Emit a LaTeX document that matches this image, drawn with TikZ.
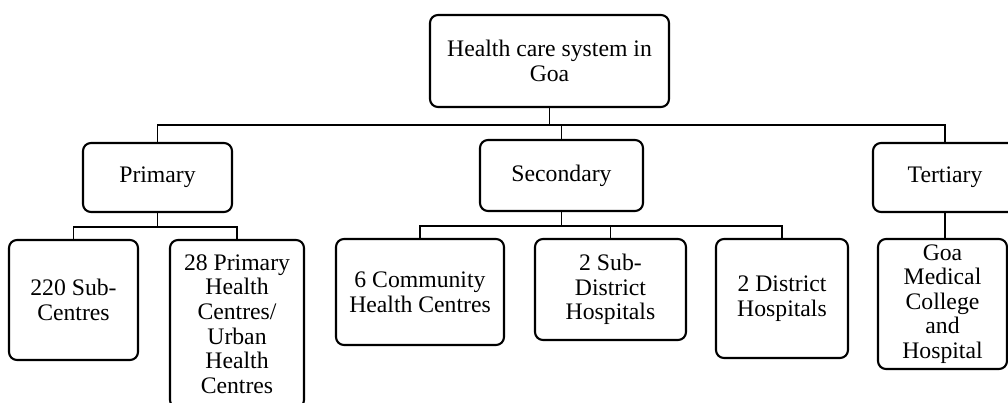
\documentclass[tikz,border=0pt]{standalone}
\usepackage{fontspec}
\setmainfont{Liberation Serif}
\begin{document}
\begin{tikzpicture}[x=1pt,y=-1pt,
  box/.style={draw, line width=2.1pt, rounded corners=8pt, inner sep=0pt,
    align=center, font=\fontsize{23.7}{24.6}\selectfont},
  conn/.style={line width=1.8pt}]
\useasboundingbox (0,0) rectangle (1008,403);
\clip (0,0) rectangle (1008,403);
\node[box, minimum width=239pt, minimum height=92pt] (top) at (549.5,61) {Health care system in\\Goa};
\node[box, minimum width=149pt, minimum height=69pt] (pri) at (157.5,177.5) {Primary};
\node[box, minimum width=163pt, minimum height=71pt] (sec) at (561.5,175.5) {Secondary};
\node[box, minimum width=144pt, minimum height=69pt] (ter) at (945,177.5) {Tertiary};
\node[box, minimum width=129pt, minimum height=120pt] (sub) at (73.5,300) {220 Sub-\\Centres};
\node[box, minimum width=134pt, minimum height=168pt] (phc) at (237,324) {28 Primary\\Health\\Centres/\\Urban\\Health\\Centres};
\node[box, minimum width=168pt, minimum height=106pt] (chc) at (420,292) {6 Community\\Health Centres};
\node[box, minimum width=151pt, minimum height=101pt] (sdh) at (610.5,289.5) {2 Sub-\\District\\Hospitals};
\node[box, minimum width=132pt, minimum height=119pt] (dh) at (782,298.5) {2 District\\Hospitals};
\node[box, minimum width=129pt, minimum height=130pt] (gmc) at (942.5,304) {Goa\\Medical\\College\\and\\Hospital};
\coordinate (b1) at (550,125);
\coordinate (b2) at (158,227);
\coordinate (b3) at (562,226);
\draw[conn] (top.south) -- (top.south |- b1);
\draw[conn] (pri.north) -- (pri.north |- b1) -- (ter.north |- b1) -- (ter.north);
\draw[conn] (sec.north) -- (sec.north |- b1);
\draw[conn] (pri.south) -- (pri.south |- b2);
\draw[conn] (sub.north) -- (sub.north |- b2) -- (phc.north |- b2) -- (phc.north);
\draw[conn] (sec.south) -- (sec.south |- b3);
\draw[conn] (chc.north) -- (chc.north |- b3) -- (dh.north |- b3) -- (dh.north);
\draw[conn] (sdh.north) -- (sdh.north |- b3);
\draw[conn] (ter.south) -- (ter.south |- gmc.north);
\end{tikzpicture}
\end{document}
